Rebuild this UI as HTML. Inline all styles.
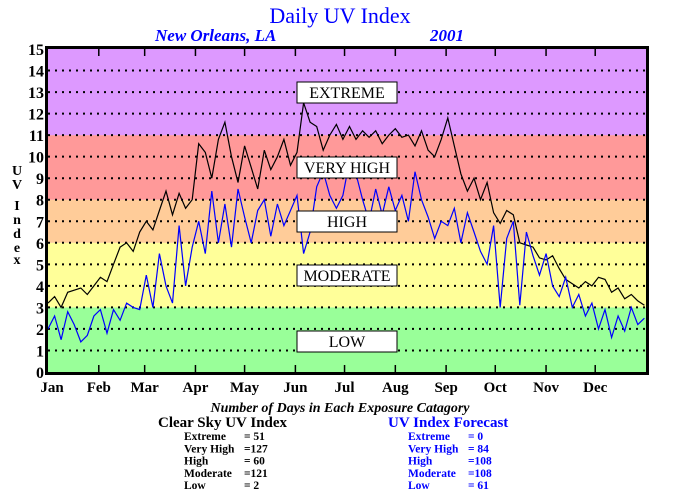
<!DOCTYPE html>
<html><head><meta charset="utf-8"><style>
body{margin:0;background:#fff;width:680px;height:500px;overflow:hidden}
svg{display:block;font-family:"Liberation Serif",serif}
</style></head><body>
<svg id="chart" width="680" height="500" xmlns="http://www.w3.org/2000/svg">
<text x="340" y="23" text-anchor="middle" font-size="22" fill="#0000ff">Daily UV Index</text>
<text x="155" y="41" font-size="17" font-weight="bold" font-style="italic" fill="#0000ff">New Orleans, LA</text>
<text x="430" y="41" font-size="17" font-weight="bold" font-style="italic" fill="#0000ff">2001</text>
<g id="bands"></g>
<g id="grid"></g>
<g id="series"></g>
<g id="cats"></g>
<g id="axes"></g>
<text font-size="14" font-weight="bold" text-anchor="middle">
<tspan x="17" y="175">U</tspan><tspan x="17" y="189">V</tspan><tspan x="17" y="210">I</tspan><tspan x="17" y="224">n</tspan><tspan x="17" y="238">d</tspan><tspan x="17" y="252">e</tspan><tspan x="17" y="264">x</tspan></text>
<text x="340" y="412" text-anchor="middle" font-size="14" font-weight="bold" font-style="italic">Number of Days in Each Exposure Catagory</text>
<text x="158" y="427" font-size="15" font-weight="bold">Clear Sky UV Index</text>
<text x="388" y="427" font-size="15" font-weight="bold" fill="#0000ff">UV Index Forecast</text>
<g id="summary" font-size="11.5" font-weight="bold"></g>
</svg>
<script>
const months=["Jan","Feb","Mar","Apr","May","Jun","Jul","Aug","Sep","Oct","Nov","Dec"];
const monthStarts=[0,31,59,90,120,151,181,212,243,273,304,334];
const yTicks=[0,1,2,3,4,5,6,7,8,9,10,11,12,13,14,15];
const bandNames=["LOW","MODERATE","HIGH","VERY HIGH","EXTREME"];
const bandLow=[0,3,6,8,11];
const bandHigh=[3,6,8,11,15];
const bandColors=["#99ff99","#ffff99","#ffcc99","#ff9999","#dd99ff"];
const sampleStep=4;
const clearSky=[3.2,3.5,3.0,3.7,3.8,3.9,3.6,4.0,
4.4,4.2,5.0,5.8,6.0,5.6,6.5,
7.0,6.6,7.5,8.4,7.3,8.3,7.6,8.0,
10.6,10.2,9.0,10.8,11.6,10.0,8.8,
10.5,9.5,8.5,10.3,9.4,10.0,10.8,9.6,
10.2,12.5,11.6,11.4,10.3,11.0,11.5,10.8,
11.4,10.8,11.2,10.9,11.2,10.6,11.0,
11.3,10.9,11.0,10.5,11.2,10.3,10.0,10.8,
11.8,10.5,9.2,8.4,9.0,8.0,8.8,
7.4,6.9,7.5,7.3,6.0,5.9,5.8,5.3,
5.2,5.4,4.8,4.3,4.1,3.9,4.2,
4.0,4.4,4.3,3.7,3.9,3.4,3.6,3.3,3.1];
const forecast=[2.0,2.6,1.5,2.8,2.2,1.4,1.7,2.6,
2.9,1.8,2.9,2.4,3.2,3.0,2.9,
4.5,3.0,5.5,4.0,3.2,6.8,4.0,5.8,
7.0,5.5,8.4,6.0,7.8,5.8,8.5,
7.2,6.0,7.5,8.0,6.3,7.8,6.8,7.5,
8.2,5.5,6.5,8.6,9.3,8.2,7.6,8.2,
9.8,9.2,8.0,7.0,8.5,7.3,8.6,
7.5,8.2,7.0,9.3,8.0,7.2,6.2,7.0,
6.8,7.6,6.0,7.4,6.5,5.6,5.0,
6.8,3.0,6.2,7.0,3.1,6.5,5.4,4.5,
5.5,4.0,3.5,4.4,3.0,3.6,2.6,
3.2,2.0,2.9,1.6,2.6,1.9,3.0,2.2,2.5];
const clearCounts=[["Extreme","= 51"],["Very High","=127"],["High","= 60"],["Moderate","=121"],["Low","=  2"]];
const forecastCounts=[["Extreme","=  0"],["Very High","= 84"],["High","=108"],["Moderate","=108"],["Low","= 61"]];

const NS="http://www.w3.org/2000/svg";
const L=48,R=646,T=49,B=372,DAYS=365,YMAX=15;
const x=d=>L+d*(R-L)/DAYS;
const y=v=>B-v*(B-T)/YMAX;
function mk(tag,attrs,parent,text){const e=document.createElementNS(NS,tag);for(const k in attrs)e.setAttribute(k,attrs[k]);if(text!==undefined)e.textContent=text;parent.appendChild(e);return e;}
const bands=document.getElementById('bands'),grid=document.getElementById('grid'),series=document.getElementById('series'),cats=document.getElementById('cats'),axes=document.getElementById('axes'),summary=document.getElementById('summary');
bandLow.forEach((lo,i)=>{
 const r=mk('rect',{x:L,y:y(bandHigh[i]),width:R-L,height:y(lo)-y(bandHigh[i]),fill:bandColors[i]},bands);
 
 
});
yTicks.forEach(t=>{
 if(t>0&&t<YMAX){const g=mk('line',{x1:L,x2:R,y1:y(t),y2:y(t),stroke:'#000','stroke-width':2,'stroke-dasharray':'2 5'},grid);
 
 }
 const tl=mk('text',{x:L-4,y:y(t)+6,'text-anchor':'end','font-size':16,'font-weight':'bold'},axes,String(t));
 
 
});
function line(data,color,name){
 const pts=data.map((v,i)=>x(Math.min(i*sampleStep,DAYS-1)).toFixed(1)+','+y(v).toFixed(1)).join(' ');
 const p=mk('polyline',{points:pts,fill:'none',stroke:color,'stroke-width':1.2},series);
 
 
}
line(clearSky,'#000','clear-sky-line');
line(forecast,'#0000ff','forecast-line');
const catY=[341,275,221,167,92];
bandNames.forEach((n,i)=>{
 const g=mk('g',{},cats);
 
 
 mk('rect',{x:297,y:catY[i]-10,width:100,height:21,fill:'#fff',stroke:'#000','stroke-width':1},g);
 mk('text',{x:347,y:catY[i]+6,'text-anchor':'middle','font-size':16},g,n);
});
const fr=mk('rect',{x:L-1.5,y:T-1.5,width:R-L+3,height:B-T+3,fill:'none',stroke:'#000','stroke-width':3},axes);


months.forEach((m,i)=>{
 const xx=x(monthStarts[i]);
 if(i>0){mk('line',{x1:xx,x2:xx,y1:T,y2:T+7,stroke:'#000','stroke-width':1.5},axes);
 mk('line',{x1:xx,x2:xx,y1:B,y2:B-7,stroke:'#000','stroke-width':1.5},axes);}
 const t=mk('text',{x:i===0?52:xx,y:392,'text-anchor':'middle','font-size':15,'font-weight':'bold'},axes,m);
 
 
});
function table(rows,x0,x1,color,prefix){
 rows.forEach((r,i)=>{
  const a=mk('text',{x:x0,y:440+i*12.3,fill:color},summary,r[0]);
  
  
  const b=mk('text',{x:x1,y:440+i*12.3,fill:color,'xml:space':'preserve'},summary,r[1]);
  
  
 });
}
table(clearCounts,184,244,'#000','clear-sky');
table(forecastCounts,408,468,'#0000ff','forecast');
</script>
</body></html>
